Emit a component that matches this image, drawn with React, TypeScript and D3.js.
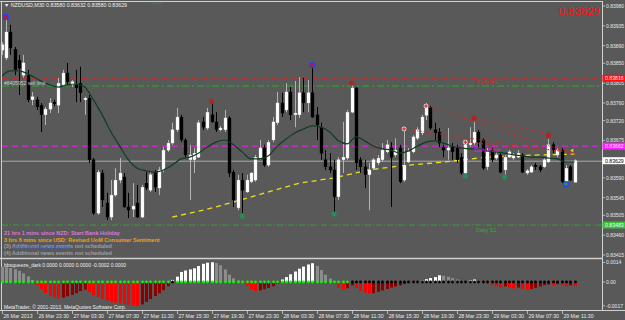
import React from "react";
import * as d3 from "d3";

// ---------- DATA ----------
const opens = [0.8388,0.83862,0.83921,0.83882,0.83857,0.83823,0.83823,0.83767,0.83767,0.83755,0.83733,0.83746,0.83762,0.83755,0.83801,0.83828,0.83801,0.83801,0.83805,0.83767,
0.83771,0.83631,0.8351,0.83601,0.83533,0.83501,0.83551,0.83585,0.83592,0.83524,0.83519,0.83533,0.83501,0.83578,0.83562,0.83603,0.83567,0.83608,0.83653,0.83669,
0.83699,0.83728,0.83676,0.83631,0.83631,0.83637,0.83717,0.83703,0.83733,0.83717,0.83699,0.83699,0.83726,0.83603,0.83522,0.83585,0.83558,0.83581,0.83585,0.83635,
0.83658,0.83619,0.83676,0.83715,0.8376,0.83744,0.83785,0.83733,0.83733,0.83783,0.8376,0.83783,0.83733,0.83705,0.83631,0.83615,0.83608,0.83547,0.83631,0.83635,
0.83739,0.83794,0.83631,0.83615,0.83597,0.83612,0.83624,0.83631,0.83649,0.83658,0.83642,0.83658,0.83585,0.83626,0.83649,0.8368,0.83692,0.83732,0.83749,0.83699,
0.83694,0.8366,0.83653,0.8366,0.83658,0.83637,0.83601,0.83665,0.83669,0.83694,0.83676,0.83615,0.83653,0.83635,0.83642,0.83608,0.83637,0.83635,0.83637,0.83642,
0.83601,0.83603,0.83619,0.83615,0.83615,0.83626,0.83665,0.83642,0.83653,0.83581,0.83615,0.8358];
const highs = [0.83898,0.83948,0.83937,0.83887,0.83869,0.83869,0.83835,0.83785,0.83774,0.8376,0.83751,0.83771,0.83767,0.83817,0.83835,0.83851,0.83812,0.83835,0.83842,0.83774,
0.83778,0.83635,0.83608,0.83608,0.83556,0.83585,0.83612,0.83635,0.83601,0.83556,0.83578,0.83574,0.83574,0.83603,0.83603,0.83608,0.83615,0.8366,0.83676,0.83715,
0.83749,0.83733,0.8368,0.83665,0.83658,0.83721,0.83728,0.83749,0.8376,0.83739,0.83708,0.83744,0.8373,0.83608,0.83597,0.83601,0.83597,0.83603,0.83642,0.83676,
0.83665,0.83676,0.83728,0.83785,0.83783,0.83805,0.83796,0.8381,0.83819,0.83817,0.83812,0.83839,0.83751,0.83715,0.83653,0.83646,0.83631,0.83637,0.83717,0.83744,
0.83801,0.83796,0.83637,0.83631,0.83624,0.83635,0.83642,0.83669,0.83676,0.83671,0.8368,0.83665,0.83699,0.83658,0.83687,0.83705,0.83733,0.8376,0.83753,0.83715,
0.83703,0.83665,0.83703,0.83669,0.83665,0.83646,0.83671,0.83705,0.83717,0.83699,0.8368,0.83658,0.83658,0.83649,0.83649,0.83642,0.83653,0.83646,0.83653,0.83646,
0.8361,0.83619,0.83624,0.83619,0.83635,0.83678,0.83671,0.83658,0.83658,0.83619,0.83619,0.83632];
const lows = [0.83869,0.83857,0.83869,0.83823,0.83778,0.83817,0.83762,0.83755,0.83744,0.83694,0.8371,0.83737,0.83753,0.83737,0.83796,0.83801,0.83796,0.83762,0.83762,0.83733,
0.83624,0.83506,0.83506,0.83524,0.83494,0.83494,0.83547,0.83578,0.83522,0.83499,0.83501,0.83499,0.83499,0.83562,0.83558,0.83558,0.83551,0.83603,0.83649,0.83665,
0.83694,0.83671,0.83637,0.8354,0.83601,0.83635,0.83699,0.83699,0.83715,0.83694,0.83696,0.83694,0.83592,0.83524,0.83517,0.8351,0.83556,0.83578,0.83581,0.83631,
0.83615,0.83615,0.83671,0.8371,0.83728,0.83739,0.83721,0.83705,0.83726,0.83739,0.83739,0.83726,0.83676,0.83631,0.83608,0.83601,0.8351,0.8354,0.83601,0.83631,
0.83737,0.83608,0.83601,0.83567,0.83517,0.83608,0.83619,0.83626,0.83646,0.83524,0.83637,0.83578,0.83581,0.83624,0.83646,0.83676,0.83687,0.83721,0.83699,0.83676,
0.8366,0.83637,0.83631,0.83631,0.83624,0.83597,0.83597,0.8366,0.83665,0.8366,0.83608,0.83608,0.83626,0.83631,0.83601,0.83597,0.83635,0.83631,0.83635,0.83601,
0.83597,0.83601,0.83608,0.83603,0.83612,0.83624,0.83646,0.83637,0.83578,0.83578,0.83583,0.8358];
const closes = [0.83892,0.83921,0.83885,0.83835,0.83839,0.83851,0.83767,0.83774,0.83751,0.83733,0.83746,0.8376,0.83758,0.83805,0.83828,0.83808,0.83808,0.83794,0.83783,0.83771,
0.83631,0.8351,0.83603,0.8354,0.83501,0.83551,0.83585,0.83601,0.83524,0.83517,0.83526,0.83501,0.83569,0.83567,0.83597,0.83569,0.83608,0.83653,0.83669,0.83699,
0.83728,0.83676,0.83642,0.83642,0.83646,0.83715,0.83705,0.83739,0.83717,0.83699,0.83703,0.83726,0.83601,0.8354,0.83585,0.83562,0.83585,0.83601,0.83637,0.83658,
0.83619,0.83671,0.83717,0.8376,0.83737,0.83785,0.83733,0.83737,0.83783,0.8376,0.83783,0.83728,0.8371,0.83646,0.83615,0.83608,0.83547,0.83631,0.83637,0.83739,
0.83794,0.83624,0.83615,0.83597,0.83608,0.83631,0.83635,0.83653,0.83665,0.83637,0.83653,0.83581,0.83619,0.83649,0.83683,0.83699,0.83728,0.83755,0.83703,0.83692,
0.83669,0.83653,0.83658,0.83649,0.83631,0.83601,0.83665,0.83669,0.83694,0.83671,0.83612,0.83649,0.83631,0.83642,0.83603,0.83637,0.83649,0.83642,0.83646,0.83603,
0.83606,0.83615,0.83615,0.83608,0.83631,0.83665,0.83653,0.83653,0.83581,0.83612,0.83585,0.83629];

// dark green moving average (bar index, price)
const maBars = [0,2,4,6,9,11,13,15,17,19,21,23,25,27,29,31,33,35,37,39,41,43,45,47,49,51,53,55,57,59,61,63,65,67,69,71,73,75,77,79,81,83,85,87,89,91,93,95,97,99,101,103,105,107,109,111,113,115,117,119,121,123,125,127,129,131];
const maPrices = [0.83821,0.83833,0.83833,0.83826,0.8381,0.83801,0.83796,0.83801,0.83803,0.83796,0.83767,0.83733,0.83694,0.83662,0.83631,0.83612,0.83606,0.83603,0.83608,0.83619,
0.83633,0.83637,0.83646,0.8366,0.83671,0.83676,0.83665,0.83649,0.83633,0.83633,0.8364,0.83662,0.83678,0.83692,0.83701,0.83708,0.83705,0.83694,0.83674,0.83667,
0.83683,0.83674,0.83662,0.83656,0.83653,0.83646,0.83651,0.83662,0.83671,0.83674,0.83669,0.83662,0.83658,0.83656,0.83656,0.83651,0.83649,0.83646,0.83642,0.8364,
0.83637,0.83637,0.83635,0.83633,0.83626,0.83626];

// yellow dashed long average
const slowBars = [39,47,53,61,68,76,84,91,101,109,116,123,131];
const slowPrices = [0.83501,0.83519,0.83535,0.83558,0.83578,0.8359,0.83608,0.83617,0.83626,0.83635,0.8364,0.83642,0.83644];

// fractals
const upFractalBars = [1,48,71,80,108,125];
const upFractalPrices = [0.83955,0.83764,0.83846,0.83805,0.83726,0.83687];
const upFractalRing = [true,false,true,false,false,false];
const downFractalBars = [55,76,106,115,129];
const downFractalPrices = [0.83503,0.83508,0.83594,0.83592,0.83576];
const downFractalRing = [false,false,false,false,true];

// red dotted trend lines [startBar, startPrice, endBar, endPrice]
const trendStartBars = [97,92,106,108];
const trendStartPrices = [0.83753,0.83701,0.83671,0.83726];
const trendEndBars = [131,131,130,125];
const trendEndPrices = [0.83644,0.83646,0.83649,0.8369];

// levels
const levelR1 = 0.83816;
const levelSell = 0.83798;
const levelPivot = 0.83662;
const levelBid = 0.83629;
const levelS1 = 0.83483;

const priceTicks = [0.8398,0.83935,0.8389,0.8385,0.83805,0.8376,0.8372,0.83675,0.8359,0.83545,0.83505,0.8346,0.83415];

// bbsqueeze histogram
const hist = [0.00108,0.00105,0.001,0.00092,0.0008,0.00062,0.0004,0.00015,-0.0002,-0.0005,-0.00078,-0.00098,-0.0011,-0.00118,-0.00112,-0.00102,-0.00092,-0.0008,-0.00065,-0.00055,
-0.00072,-0.00095,-0.00108,-0.0012,-0.0013,-0.0014,-0.00148,-0.00152,-0.00158,-0.00163,-0.00168,-0.00172,-0.0016,-0.00142,-0.00122,-0.001,-0.0008,-0.00058,-0.0003,0.00015,
0.00038,0.00072,0.00082,0.0009,0.00098,0.00114,0.0013,0.00138,0.00141,0.00136,0.0012,0.0009,0.00052,0.00026,0.0001,-0.00005,-0.00028,-0.0005,-0.00064,-0.0006,
-0.00052,-0.00042,-0.0003,-0.00012,0.00018,0.00035,0.00055,0.00075,0.00095,0.0011,0.00125,0.00134,0.00115,0.00086,0.00052,0.00025,-0.0001,-0.00042,-0.00055,-0.00045,
-0.00025,-0.00042,-0.00065,-0.00075,-0.00082,-0.0008,-0.0007,-0.0006,-0.0005,-0.0004,-0.00032,-0.00025,-0.00015,-0.00008,-0.00003,0.00003,0.0001,0.0002,0.00028,0.00035,
0.00048,0.00045,0.00038,0.00028,0.00018,0.0001,0.00006,0.00012,0.00018,0.0001,0.00002,-0.0001,-0.0002,-0.0003,-0.0004,-0.00032,-0.0004,-0.00046,-0.0004,-0.0005,
-0.00056,-0.0005,-0.00042,-0.00032,-0.00022,-0.00018,-0.00022,-0.00015,-0.00022,-0.0003,-0.00024,-0.00028];
const squeezeOnFrom = [39,80];
const squeezeOnTo = [39,131];

const timeLabels = ["26 Mar 2013","26 Mar 23:30","27 Mar 03:30","27 Mar 07:30","27 Mar 11:30","27 Mar 15:30","27 Mar 19:30","27 Mar 23:30","28 Mar 03:30","28 Mar 07:30","28 Mar 11:30","28 Mar 15:30","28 Mar 19:30","28 Mar 23:30","29 Mar 03:30","29 Mar 07:30","29 Mar 11:30"];
const timeLabelBars = [0,8,16,24,32,40,48,56,64,72,80,88,96,104,112,120,128];

const newsLines = ["21 hrs 1 mins since NZD: Start Bank Holiday","3 hrs 6 mins since USD: Revised UoM Consumer Sentiment","(3) Additional news events not scheduled","(4) Additional news events not scheduled"];
const newsColors = ["#d878d8","#f0a020","#a0a0a0","#a0a0a0"];

const FONT = "'Liberation Sans', Arial, sans-serif";
const BG = "#595959";

export default function App() {
  const n = closes.length;
  const x = d3.scaleLinear().domain([0, n - 1]).range([1.6, 574.7]);
  const y = d3.scaleLinear().domain([0.83415, 0.8398]).range([255, 6]);
  const yi = d3.scaleLinear().domain([-0.0017, 0.0014]).range([305.8, 262.4]);
  const fmt = d3.format(".5f");

  const maLine = d3.line<number>().x((_, i) => x(maBars[i])).y((p) => y(p)).curve(d3.curveMonotoneX);
  const slowLine = d3.line<number>().x((_, i) => x(slowBars[i])).y((p) => y(p));

  const isSqueeze = (i: number) => squeezeOnFrom.some((s, k) => i >= s && i <= squeezeOnTo[k]);
  const histColor = (i: number) => {
    const v = hist[i];
    const prev = i > 0 ? hist[i - 1] : v + 0.00001;
    if (v >= 0) return v >= prev ? "#ffffff" : "#8c8c8c";
    return v <= prev ? "#ff0000" : "#8b0000";
  };

  const box = (p: number, fill: string, textFill: string, label: string) => (
    <g key={"box" + label}>
      <rect x={602.5} y={y(p) - 3.5} width={23} height={7} fill={fill} />
      <text x={605} y={y(p) + 2} fontSize={5.2} fill={textFill} fontFamily={FONT}>{label}</text>
    </g>
  );

  return (
    <svg width={625} height={320} style={{ position: "fixed", left: 0, top: 0, background: BG }} xmlns="http://www.w3.org/2000/svg">
      <rect x={0} y={0} width={625} height={320} fill={BG} />
      {/* faint arc at top */}
      <path d="M150,1 A8,6 0 0 0 164,1" fill="none" stroke="#3a8a5a" strokeWidth={0.8} />

      {/* horizontal levels */}
      <line x1={2} x2={602} y1={y(levelR1)} y2={y(levelR1)} stroke="#e02020" strokeWidth={0.8} strokeDasharray="5 2 1 2" />
      <line x1={2} x2={602} y1={y(levelSell)} y2={y(levelSell)} stroke="#3c8a3c" strokeWidth={1.8} strokeDasharray="7 3 2 3" />
      <line x1={2} x2={602} y1={y(levelPivot)} y2={y(levelPivot)} stroke="#e020e0" strokeWidth={1.2} strokeDasharray="6 4" />
      <line x1={2} x2={602} y1={y(levelBid) + 0.5} y2={y(levelBid) + 0.5} stroke="#a8a8a8" strokeWidth={1} />
      <line x1={2} x2={602} y1={y(levelS1)} y2={y(levelS1)} stroke="#33aa33" strokeWidth={0.9} strokeDasharray="6 2 1 2" />

      {/* yellow dashed slow average */}
      <path d={slowLine(slowPrices) || ""} fill="none" stroke="#e8e020" strokeWidth={1.3} strokeDasharray="5 4" />

      {/* candles */}
      {closes.map((c, i) => {
        const o = opens[i];
        const bull = c >= o;
        const cx = Math.round(x(i)) + 0.5;
        const top = y(Math.max(o, c));
        const bot = y(Math.min(o, c));
        const h = Math.max(1, bot - top);
        return (
          <g key={"c" + i}>
            <line x1={cx} x2={cx} y1={y(highs[i])} y2={y(lows[i])} stroke={bull ? "#b4b4b4" : "#000"} strokeWidth={1} />
            <rect x={cx - 1.5} y={top} width={3} height={h} fill={bull ? "#ffffff" : "#000000"} stroke={bull ? "#d8d8d8" : "#000"} strokeWidth={0.3} />
          </g>
        );
      })}

      {/* moving average */}
      <path d={maLine(maPrices) || ""} fill="none" stroke="#0f3d22" strokeWidth={1.2} />

      {/* trend lines */}
      {trendStartBars.map((b, k) => (
        <line key={"t" + k} x1={x(b)} y1={y(trendStartPrices[k])} x2={x(trendEndBars[k])} y2={y(trendEndPrices[k])} stroke="#e02020" strokeWidth={1} strokeDasharray="1.3 2" />
      ))}
      {trendStartBars.slice(0, 3).map((b, k) => (
        <g key={"x" + k}>
          <circle cx={x(b)} cy={y(trendStartPrices[k])} r={2.4} fill="#e8d8d8" />
          <line x1={x(b) - 1.8} x2={x(b) + 1.8} y1={y(trendStartPrices[k])} y2={y(trendStartPrices[k])} stroke="#e01010" strokeWidth={1} />
          <line x1={x(b)} x2={x(b)} y1={y(trendStartPrices[k]) - 1.8} y2={y(trendStartPrices[k]) + 1.8} stroke="#e01010" strokeWidth={1} />
        </g>
      ))}
      <path d={`M${x(130)},${y(0.83652)} l3,-2 l0,4 z`} fill="#f0d020" />

      {/* fractals */}
      {upFractalBars.map((b, k) => (
        <circle key={"uf" + k} cx={x(b)} cy={y(upFractalPrices[k])} r={2.6} fill="#b02424" stroke={upFractalRing[k] ? "#2a3cff" : "none"} strokeWidth={1.1} />
      ))}
      {downFractalBars.map((b, k) => (
        <circle key={"df" + k} cx={x(b)} cy={y(downFractalPrices[k])} r={2.6} fill="#2a8a5a" stroke={downFractalRing[k] ? "#2a3cff" : "none"} strokeWidth={1.1} />
      ))}

      {/* labels inside main chart */}
      <text x={4} y={6.5} fontSize={5.3} fill="#f0f0f0" fontFamily={FONT}>▼ NZDUSD,M30  0.83580 0.83632 0.83580 0.83629</text>
      <text x={600} y={14.5} fontSize={11.5} fill="#ff1010" fontFamily={FONT} textAnchor="end">0.83629</text>
      <text x={4} y={y(levelSell) - 1.5} fontSize={5} fill="#d0d0d0" fontFamily={FONT}>#8405952 sell limit</text>
      <text x={476} y={y(levelR1) + 6} fontSize={5.5} fill="#e02020" fontFamily={FONT}>Daily R1</text>
      <text x={474} y={y(levelPivot) + 5.5} fontSize={5.5} fill="#e020e0" fontFamily={FONT}>Daily Pivot</text>
      <text x={476} y={y(levelS1) + 6.5} fontSize={5.5} fill="#33aa33" fontFamily={FONT}>Daily S1</text>

      {newsLines.map((t, k) => (
        <text key={"n" + k} x={4} y={235 + k * 6.6} fontSize={5.5} fontWeight="bold" fill={newsColors[k]} fontFamily={FONT}>{t}</text>
      ))}
      <text x={13} y={248.8} fontSize={5.5} fill="#3a60d0" fontFamily={FONT} fontStyle="italic">www.ForexFactory.com</text>

      {/* borders */}
      <line x1={0} x2={602} y1={1.5} y2={1.5} stroke="#d0d0d0" strokeWidth={1} />
      <line x1={1.5} x2={1.5} y1={1} y2={310} stroke="#d0d0d0" strokeWidth={1} />
      <line x1={0} x2={602} y1={258.5} y2={258.5} stroke="#d0d0d0" strokeWidth={1.6} />
      <line x1={602.5} x2={602.5} y1={1} y2={310.5} stroke="#d0d0d0" strokeWidth={1} />
      <line x1={0} x2={625} y1={310.5} y2={310.5} stroke="#d0d0d0" strokeWidth={1} />

      {/* price axis */}
      {priceTicks.map((p) => (
        <g key={"pt" + p}>
          <line x1={602} x2={605} y1={y(p)} y2={y(p)} stroke="#d0d0d0" strokeWidth={0.8} />
          <text x={606} y={y(p) + 2} fontSize={5} fill="#e8e8e8" fontFamily={FONT}>{fmt(p)}</text>
        </g>
      ))}
      {box(levelR1, "#ff1010", "#ffe0e0", fmt(levelR1))}
      {box(levelPivot, "#ff20ff", "#ffe0ff", fmt(levelPivot))}
      {box(levelBid, "#ffffff", "#000000", fmt(levelBid))}
      {box(levelS1, "#3cc03c", "#e8ffe8", fmt(levelS1))}

      {/* indicator window */}
      {hist.map((v, i) => {
        const y0 = yi(0);
        const y1 = yi(v);
        return <rect key={"h" + i} x={Math.round(x(i)) - 1} y={Math.min(y0, y1)} width={3} height={Math.max(0.5, Math.abs(y1 - y0))} fill={histColor(i)} />;
      })}
      {hist.map((_, i) => (
        <circle key={"d" + i} cx={Math.round(x(i)) + 0.5} cy={yi(0)} r={1.4} fill={isSqueeze(i) ? "#000000" : "#00ff00"} />
      ))}
      <text x={4} y={266.5} fontSize={5} fill="#f0f0f0" fontFamily={FONT}>bbsqueeze_dark 0.0000 0.0000 0.0000 -0.0002 0.0000</text>
      <text x={4} y={308.5} fontSize={5} fill="#f0f0f0" fontFamily={FONT}>MetaTrader, © 2001-2013, MetaQuotes Software Corp.</text>
      {[0.0014, 0, -0.0017].map((v) => (
        <g key={"iv" + v}>
          <line x1={602} x2={605} y1={yi(v)} y2={yi(v)} stroke="#d0d0d0" strokeWidth={0.8} />
          <text x={606} y={yi(v) + 2} fontSize={5} fill="#e8e8e8" fontFamily={FONT}>{v === 0 ? "0.00" : String(v)}</text>
        </g>
      ))}

      {/* time axis */}
      {timeLabelBars.map((b, k) => (
        <g key={"tl" + k}>
          <line x1={Math.round(x(b)) + 0.5} x2={Math.round(x(b)) + 0.5} y1={310} y2={314} stroke="#d0d0d0" strokeWidth={0.8} />
          <text x={x(b) + 1.8} y={318} fontSize={5.2} fill="#e8e8e8" fontFamily={FONT}>{timeLabels[k]}</text>
        </g>
      ))}
    </svg>
  );
}
